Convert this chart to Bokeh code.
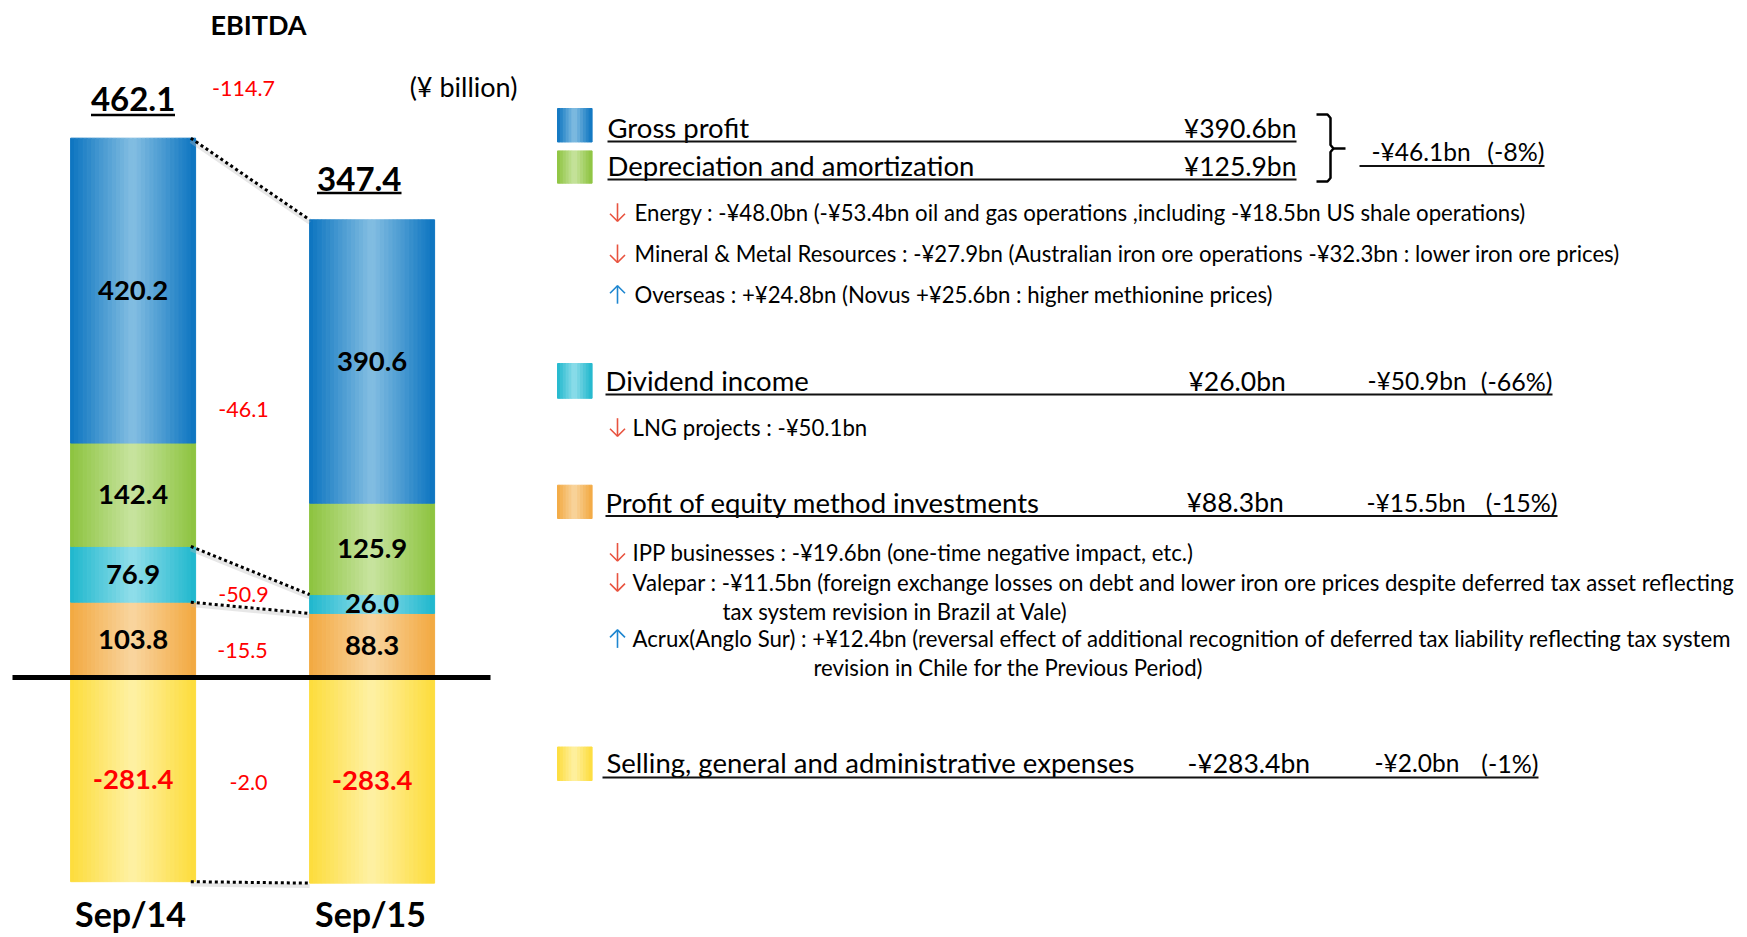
from bokeh.plotting import figure
from bokeh.models import Range1d
from bokeh.core.properties import value
from bokeh.embed import file_html
from bokeh.resources import INLINE

# ---------------- data ----------------
periods = ["Sep/14", "Sep/15"]
gross_profit = [420.2, 390.6]
depreciation = [142.4, 125.9]
dividend_income = [76.9, 26.0]
equity_profit = [103.8, 88.3]
sga_expenses = [-281.4, -283.4]
ebitda = [462.1, 347.4]

component_names = ["Gross profit", "Depreciation and amortization", "Dividend income",
                   "Profit of equity method investments",
                   "Selling, general and administrative expenses"]
component_value_texts = ["¥390.6bn", "¥125.9bn", "¥26.0bn", "¥88.3bn", "-¥283.4bn"]
change_texts = ["-¥46.1bn", "-¥50.9bn", "-¥15.5bn", "-¥2.0bn"]
change_pct_texts = ["(-8%)", "(-66%)", "(-15%)", "(-1%)"]
detail_texts = [
    "Energy : -¥48.0bn (-¥53.4bn oil and gas operations ,including -¥18.5bn US shale operations)",
    "Mineral & Metal Resources : -¥27.9bn (Australian iron ore operations -¥32.3bn : lower iron ore prices)",
    "Overseas : +¥24.8bn (Novus +¥25.6bn : higher methionine prices)",
    "LNG projects : -¥50.1bn",
    "IPP businesses : -¥19.6bn  (one-time negative impact, etc.)",
    "Valepar : -¥11.5bn (foreign exchange losses on debt and lower iron ore prices despite deferred tax asset reflecting",
    "tax system revision in Brazil at Vale)",
    "Acrux(Anglo Sur) : +¥12.4bn (reversal effect of additional recognition of deferred tax liability reflecting tax system",
    "revision in Chile for the Previous Period)",
]
detail_arrows = ["down", "down", "up", "down", "down", "down", "", "up", ""]

# ---------------- styling / layout ----------------
W, H = 1745, 935
FONT = value("Lato")
BAR_CENTER0_PX = 132.6     # page x of first bar centre
BAR_STEP_PX = 239.0        # page px between bar centres
BAR_W = 0.523              # bar width in category units
ZERO_PX = 677.0            # page y of value 0
PX_PER_UNIT = 0.7256

EDGE = {"gp": (11, 116, 192), "da": (140, 195, 62), "div": (30, 183, 205),
        "eq": (242, 168, 64), "sga": (253, 220, 58)}
MID = {"gp": (132, 190, 226), "da": (200, 228, 160), "div": (145, 222, 234),
       "eq": (249, 214, 160), "sga": (254, 241, 165)}


def mix(c1, c2, t):
    return "#%02x%02x%02x" % tuple(int(round(a + (b - a) * t)) for a, b in zip(c1, c2))


def add_gradient(store, left, right, bottom, top, key, n):
    for k in range(n):
        u = (k + 0.5) / n
        t = 1 - abs(2 * u - 1)
        store["left"].append(left + (right - left) * k / n)
        store["right"].append(left + (right - left) * (k + 1) / n)
        store["bottom"].append(bottom)
        store["top"].append(top)
        store["color"].append(mix(EDGE[key], MID[key], t))


x0 = (0 - BAR_CENTER0_PX) / BAR_STEP_PX
x1 = (W - BAR_CENTER0_PX) / BAR_STEP_PX
y1 = ZERO_PX / PX_PER_UNIT
y0 = -(H - ZERO_PX) / PX_PER_UNIT

p = figure(width=W, height=H, output_backend="svg", toolbar_location=None, min_border=0,
           x_axis_location=None, y_axis_location=None,
           x_range=Range1d(x0, x1), y_range=Range1d(y0, y1))
p.grid.visible = False
p.outline_line_color = None
p.background_fill_color = "white"
p.border_fill_color = "white"
p.extra_x_ranges = {"px": Range1d(0, W)}
p.extra_y_ranges = {"py": Range1d(H, 0)}

# ---------------- stacked bars ----------------
bars = {"left": [], "right": [], "bottom": [], "top": [], "color": []}
lab_x, lab_y, lab_t, lab_c = [], [], [], []
for i in range(len(periods)):
    base = 0.0
    for key, series in [("eq", equity_profit), ("div", dividend_income),
                        ("da", depreciation), ("gp", gross_profit)]:
        v = series[i]
        add_gradient(bars, i - BAR_W / 2, i + BAR_W / 2, base, base + v, key, 30)
        lab_x.append(i)
        lab_y.append(base + v / 2)
        lab_t.append(f"{v:.1f}")
        lab_c.append("black")
        base += v
    v = sga_expenses[i]
    add_gradient(bars, i - BAR_W / 2, i + BAR_W / 2, v, 0, "sga", 30)
    lab_x.append(i)
    lab_y.append(v / 2)
    lab_t.append(f"{v:.1f}")
    lab_c.append("#FF0000")

p.quad(left="left", right="right", bottom="bottom", top="top", source=bars,
       fill_color="color", line_color="color", line_width=1)

p.text(x=lab_x, y=lab_y, text=lab_t, text_color=lab_c, text_font=FONT,
       text_font_style="bold", text_font_size="27.5px", text_align="center",
       text_baseline="middle")

# zero line
p.segment(x0=[12], x1=[490], y0=[0], y1=[0], x_range_name="px",
          line_color="black", line_width=5)

# dotted connectors between bars
tops = [gross_profit[i] + depreciation[i] + dividend_income[i] + equity_profit[i]
        for i in range(2)]
div_tops = [dividend_income[i] + equity_profit[i] for i in range(2)]
levels = [tops, div_tops, equity_profit, sga_expenses]
p.segment(x0=[BAR_W / 2 - 0.02] * 4, x1=[1 - BAR_W / 2] * 4,
          y0=[lv[0] - 4 for lv in levels], y1=[lv[1] - 4 for lv in levels],
          line_color="#bbbbbb", line_width=4, line_alpha=0.35)
p.segment(x0=[BAR_W / 2 - 0.02] * 4, x1=[1 - BAR_W / 2] * 4,
          y0=[lv[0] for lv in levels], y1=[lv[1] for lv in levels],
          line_color="black", line_width=3, line_dash="3 3")

# changes between periods
d_total = ebitda[1] - ebitda[0]
d_gp = (gross_profit[1] + depreciation[1]) - (gross_profit[0] + depreciation[0])
d_div = dividend_income[1] - dividend_income[0]
d_eq = equity_profit[1] - equity_profit[0]
d_sga = sga_expenses[1] - sga_expenses[0]
p.text(x=[243, 243, 243, 242, 248], y=[88, 409, 594, 650, 782],
       text=[f"{d:.1f}" for d in (d_total, d_gp, d_div, d_eq, d_sga)],
       x_range_name="px", y_range_name="py", text_color="#FF0000", text_font=FONT,
       text_font_size="21.5px", text_align="center", text_baseline="middle")

# totals
p.text(x=[132.6, 358.8], y=[98, 178], text=[f"{v:.1f}" for v in ebitda],
       x_range_name="px", y_range_name="py", text_font=FONT, text_font_style="bold",
       text_font_size="33px", text_align="center", text_baseline="middle")
p.segment(x0=[90.5, 316.5], x1=[174.5, 401], y0=[114.5, 192.5], y1=[114.5, 192.5],
          x_range_name="px", y_range_name="py", line_color="black", line_width=2.5)

# title & unit
p.text(x=[258], y=[24], text=["EBITDA"], x_range_name="px", y_range_name="py",
       text_font=FONT, text_font_style="bold", text_font_size="27px",
       text_align="center", text_baseline="middle")
p.text(x=[463], y=[86], text=["(¥ billion)"], x_range_name="px", y_range_name="py",
       text_font=FONT, text_font_size="27px", text_align="center", text_baseline="middle")

# period labels
p.text(x=[130, 370], y=[913, 913], text=periods, x_range_name="px", y_range_name="py",
       text_font=FONT, text_font_style="bold", text_font_size="34px",
       text_align="center", text_baseline="middle")

# ---------------- right-hand commentary ----------------
sq = {"left": [], "right": [], "bottom": [], "top": [], "color": []}
for key, (ytop, ybot) in zip(["gp", "da", "div", "eq", "sga"],
                             [(108, 141.5), (150.4, 182.7), (363, 397.8),
                              (484.7, 518), (746.5, 780)]):
    add_gradient(sq, 557, 591.6, ybot, ytop, key, 12)
p.quad(left="left", right="right", bottom="bottom", top="top", source=sq,
       fill_color="color", line_color="color", line_width=1,
       x_range_name="px", y_range_name="py")

head_y = [127, 165, 380, 501.5, 762]
head_x = [607, 607, 605, 605, 606]
p.text(x=head_x, y=head_y, text=component_names, x_range_name="px", y_range_name="py",
       text_font=FONT, text_font_size="27.5px", text_align="left", text_baseline="middle",
       text_color="black")

# values of each component
p.text(x=[1296, 1296], y=[127, 165], text=component_value_texts[:2],
       x_range_name="px", y_range_name="py", text_font=FONT, text_font_size="26.5px",
       text_align="right", text_baseline="middle")
p.text(x=[1188, 1186, 1187], y=[380, 501.5, 762], text=component_value_texts[2:],
       x_range_name="px", y_range_name="py", text_font=FONT, text_font_size="26.5px",
       text_align="left", text_baseline="middle")
p.text(x=[1371, 1367, 1366, 1374], y=[150.5, 380, 501.5, 762], text=change_texts,
       x_range_name="px", y_range_name="py", text_font=FONT, text_font_size="24.5px",
       text_align="left", text_baseline="middle")
p.text(x=[1544, 1552, 1557, 1538], y=[150.5, 380, 501.5, 762], text=change_pct_texts,
       x_range_name="px", y_range_name="py", text_font=FONT, text_font_size="25px",
       text_align="right", text_baseline="middle")

# underlines
p.segment(x0=[607, 607, 605, 605, 602, 1359], x1=[1296, 1296, 1552, 1557, 1538, 1544],
          y0=[141, 179, 394, 515.5, 777, 165.5], y1=[141, 179, 394, 515.5, 777, 165.5],
          x_range_name="px", y_range_name="py", line_color="#111111", line_width=2)

# curly bracket
p.multi_line(xs=[[1316, 1327, 1330, 1330, 1333, 1345], [1333, 1330, 1330, 1327, 1316]],
             ys=[[114, 114, 117.5, 144.5, 148, 148], [148, 151.5, 177.5, 181, 181]],
             x_range_name="px", y_range_name="py", line_color="black", line_width=2.5)

# detail bullets
det_y = [211.7, 253, 294.2, 426.7, 551.5, 581.6, 610.6, 638.4, 667.4]
det_x = [634, 634, 634, 632, 632, 632, 722, 632, 813]
p.text(x=det_x, y=det_y, text=detail_texts, x_range_name="px", y_range_name="py",
       text_font=FONT, text_font_size="22.2px", text_align="left", text_baseline="middle",
       text_color="black")

# thin arrows drawn as shaft + head
ax, ay, ac = [], [], []
for yy, d in zip(det_y, detail_arrows):
    if not d:
        continue
    c = "#E8533F" if d == "down" else "#1E86D0"
    xc = 617
    if d == "down":
        ax += [[xc, xc], [xc - 7.5, xc, xc + 7.5]]
        ay += [[yy - 9, yy + 9], [yy + 1.5, yy + 9, yy + 1.5]]
    else:
        ax += [[xc, xc], [xc - 7.5, xc, xc + 7.5]]
        ay += [[yy + 9, yy - 9], [yy - 1.5, yy - 9, yy - 1.5]]
    ac += [c, c]
p.multi_line(xs=ax, ys=ay, line_color=ac, line_width=1.6,
             x_range_name="px", y_range_name="py")

open("out.html", "w").write(file_html(p, INLINE))
